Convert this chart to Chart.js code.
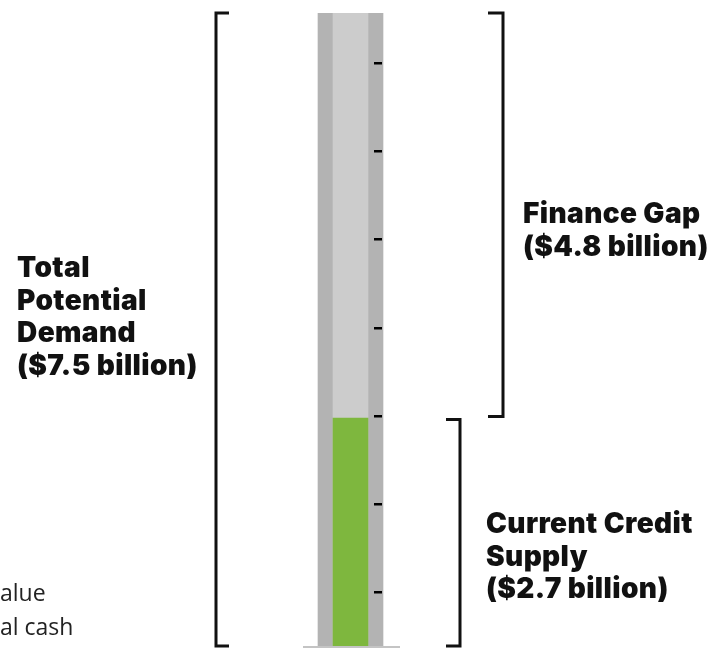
<!DOCTYPE html>
<html>
<head>
<meta charset="utf-8">
<script src="https://cdn.jsdelivr.net/npm/chart.js@4"></script>
<style>
  html, body { margin: 0; padding: 0; background: #fff; }
  #wrap { position: relative; width: 721px; height: 648px; overflow: hidden; }
  #side { position: absolute; left: 0; top: 575px; font: 23px "Open Sans", sans-serif; color: #222; line-height: 34px; }
</style>
</head>
<body>
<div id="wrap">
  <canvas id="tube" width="721" height="648"></canvas>
  <div id="side">alue<br>al cash</div>
</div>
<script>
// Credit demand vs supply ($ billion)
const categories = ["Credit"];
const totalDemand = [7.5];
const creditSupply = [2.7];
const financeGap = [4.8];

// Graduation marks on the tube ($ billion)
const tickValues = [0.64, 1.68, 2.73, 3.77, 4.82, 5.86, 6.91];

// Label lines
const demandLabel = ["Total", "Potential", "Demand", "($" + totalDemand[0] + " billion)"];
const gapLabel = ["Finance Gap", "($" + financeGap[0] + " billion)"];
const supplyLabel = ["Current Credit", "Supply", "($" + creditSupply[0] + " billion)"];

const CENTER = 350.5;
const LABEL_FONT = "900 28px Inter";

/* Tube graduations + base */
const tubeDecor = {
  id: "tubeDecor",
  afterDatasetsDraw(chart) {
    const ctx = chart.ctx;
    const y = chart.scales.y;
    ctx.save();
    ctx.fillStyle = "#000";
    tickValues.forEach(v => {
      const py = Math.round(y.getPixelForValue(v));
      ctx.fillRect(CENTER + 23.5, py - 1, 8, 2.5);
    });
    ctx.fillStyle = "#c4c4c4";
    ctx.fillRect(CENTER - 47.5, y.getPixelForValue(0), 97, 3);
    ctx.restore();
  }
};

/* Brackets and their labels */
const brackets = [
  { from: 0, to: totalDemand[0], x: 216, serif: 13, lines: demandLabel, tx: 17, ty: 277 },
  { from: creditSupply[0], to: totalDemand[0], x: 503, serif: -15, lines: gapLabel, tx: 523, ty: 223, padLow: 1.5 },
  { from: 0, to: creditSupply[0], x: 460, serif: -14, lines: supplyLabel, tx: 486, ty: 533, padHigh: 1.5 }
];

const bracketPlugin = {
  id: "bracketPlugin",
  afterDraw(chart) {
    const ctx = chart.ctx;
    const y = chart.scales.y;
    ctx.save();
    ctx.strokeStyle = "#111";
    ctx.lineWidth = 3;
    brackets.forEach(b => {
      const y0 = y.getPixelForValue(b.from) - (b.padLow || 0);
      const y1 = y.getPixelForValue(b.to) + (b.padHigh || 0);
      ctx.beginPath();
      ctx.moveTo(b.x + b.serif, y1);
      ctx.lineTo(b.x, y1);
      ctx.lineTo(b.x, y0);
      ctx.lineTo(b.x + b.serif, y0);
      ctx.stroke();
    });
    ctx.fillStyle = "#111";
    ctx.font = LABEL_FONT;
    ctx.letterSpacing = "0.4px";
    ctx.textBaseline = "alphabetic";
    brackets.forEach(b => {
      b.lines.forEach((t, i) => ctx.fillText(t, b.tx, b.ty + i * 32.5));
    });
    ctx.restore();
  }
};

new Chart(document.getElementById("tube"), {
  type: "bar",
  data: {
    labels: categories,
    datasets: [
      {
        label: "Tube",
        data: totalDemand,
        backgroundColor: "#b3b3b3",
        barThickness: 65,
        grouped: false,
        order: 3
      },
      {
        label: "Total Potential Demand",
        data: totalDemand,
        backgroundColor: "#cccccc",
        barThickness: 35,
        grouped: false,
        order: 2
      },
      {
        label: "Current Credit Supply",
        data: creditSupply,
        backgroundColor: "#7eb73e",
        barThickness: 35,
        grouped: false,
        order: 1
      }
    ]
  },
  options: {
    responsive: false,
    animation: false,
    layout: { padding: { top: 13, bottom: 2, left: 0, right: 20 } },
    plugins: { legend: { display: false }, tooltip: { enabled: false } },
    scales: {
      x: { display: false },
      y: { display: false, min: 0, max: 7.5 }
    }
  },
  plugins: [tubeDecor, bracketPlugin]
});
</script>
</body>
</html>
